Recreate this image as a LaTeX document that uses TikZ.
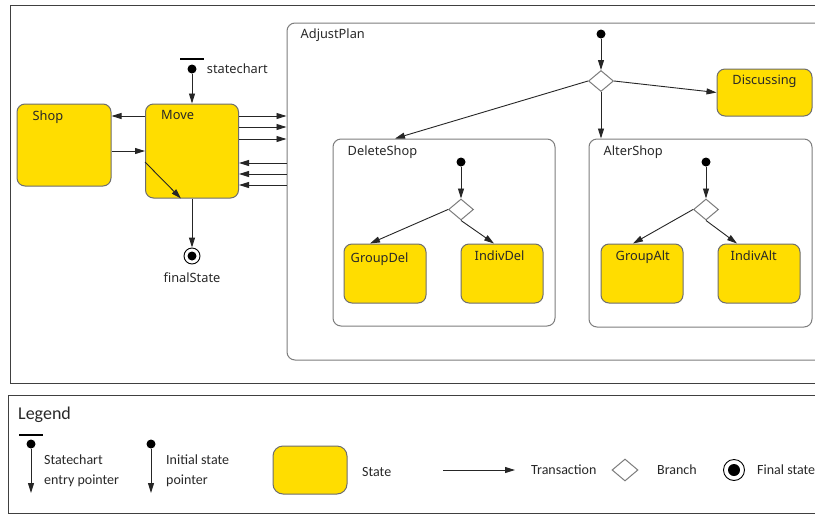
\documentclass[tikz,border=0pt]{standalone}
\usepackage{fontspec}
\setmainfont{Noto Sans}
\newfontfamily\legendfont{Carlito}
\usetikzlibrary{arrows.meta,shapes.geometric}

\definecolor{stateyellow}{RGB}{255,221,0}
\definecolor{stateborder}{RGB}{110,110,110}
\definecolor{boxborder}{RGB}{125,125,125}
\definecolor{textgray}{RGB}{40,40,40}

\tikzset{
	frame/.style={draw=black!75, line width=1pt},
	state/.style={draw=stateborder, fill=stateyellow, rounded corners=8pt, line width=1pt, inner sep=0pt},
	box/.style={draw=boxborder, rounded corners=8pt, line width=1pt, inner sep=0pt},
	init/.style={circle, fill=black, inner sep=0pt, minimum size=9pt},
	branch/.style={diamond, draw=boxborder, fill=white, line width=1pt, inner sep=0pt, minimum width=25pt, minimum height=21pt},
	finalst/.style={circle, draw=black, line width=0.9pt, inner sep=0pt, minimum size=16pt,
		path picture={\fill[black] (path picture bounding box.center) circle (#1);}},
	finalst/.default=4.5pt,
	tr/.style={-{Triangle[length=10pt,width=6pt]}, line width=0.9pt, draw=black!85},
	lbl/.style={font=\fontsize{12.8}{15}\selectfont, text=textgray, inner sep=0pt},
	leg/.style={font=\legendfont\fontsize{14}{20}\selectfont, text=textgray, inner sep=0pt, align=left},
}

\begin{document}
\begin{tikzpicture}[x=1pt,y=-1pt]
\useasboundingbox (0,0) rectangle (815,515);
\clip (0,0) rectangle (815,515);
\fill[white] (0,0) rectangle (815,515);

% FRAMES
\draw[frame] (10,5) rectangle (830,383);
\draw[frame] (8,395) rectangle (830,513);

% TOP LEVEL
\node[init, label={[lbl,label distance=10pt]right:statechart}] (sc) at (192,69) {};
\draw[line width=2.3pt] ([xshift=-12pt,yshift=10pt]sc.center) -- ([xshift=12pt,yshift=10pt]sc.center);
\node[state, minimum width=94pt, minimum height=82pt,
	label={[lbl,anchor=north west,xshift=16pt,yshift=-7pt]north west:Shop}] (shop) at (64,145) {};
\node[state, minimum width=93pt, minimum height=94pt,
	label={[lbl,anchor=north west,xshift=16pt,yshift=-7pt]north west:Move}] (move) at (192,151) {};
\node[finalst, label={[lbl,label distance=8pt]below:finalState}] (fs) at (192,256) {};

\draw[tr] (sc) -- (sc |- move.north);
\draw[tr] (move.west |- 0,116) -- (shop.east |- 0,116);
\draw[tr] (shop.east |- 0,151) -- (move.west |- 0,151);
\draw[tr] (move.west |- 0,162) -- (move.south -| 181,0);
\draw[tr] (move.south) -- (fs);

% ADJUSTPLAN
\node[box, minimum width=600pt, minimum height=337pt,
	label={[lbl,anchor=north west,xshift=14pt,yshift=-6pt]north west:AdjustPlan}] (ap) at (587,191.5) {};
\foreach \y in {116,127,139}
	\draw[tr] (move.east |- 0,\y) -- (ap.west |- 0,\y);
\foreach \y in {163,174,185}
	\draw[tr] (ap.west |- 0,\y) -- (move.east |- 0,\y);

\node[init] (i0) at (601,34) {};
\node[branch] (b0) at (601,81) {};
\node[state, minimum width=95pt, minimum height=47pt,
	label={[lbl,anchor=north,yshift=-6pt]north:Discussing}] (disc) at (764.5,92.5) {};

% DELETESHOP
\node[box, minimum width=222pt, minimum height=187pt,
	label={[lbl,anchor=north west,xshift=15pt,yshift=-7pt]north west:DeleteShop}] (ds) at (444,232.5) {};
\node[init] (i1) at (461,162) {};
\node[branch] (b1) at (461,209.5) {};
\node[state, minimum width=82pt, minimum height=59pt,
	label={[lbl,anchor=north west,xshift=7pt,yshift=-9pt]north west:GroupDel}] (gd) at (385,273.5) {};
\node[state, minimum width=82pt, minimum height=59pt,
	label={[lbl,anchor=north west,xshift=14pt,yshift=-7pt]north west:IndivDel}] (id) at (502,273.5) {};

% ALTERSHOP
\node[box, minimum width=223pt, minimum height=188pt,
	label={[lbl,anchor=north west,xshift=15pt,yshift=-7pt]north west:AlterShop}] (as) at (700.5,233) {};
\node[init] (i2) at (706,162) {};
\node[branch] (b2) at (706,209.5) {};
\node[state, minimum width=82pt, minimum height=59pt,
	label={[lbl,anchor=north west,xshift=15pt,yshift=-7pt]north west:GroupAlt}] (ga) at (642,273.5) {};
\node[state, minimum width=82pt, minimum height=59pt,
	label={[lbl,anchor=north west,xshift=13pt,yshift=-7pt]north west:IndivAlt}] (ia) at (759,273.5) {};

% TRANSITIONS INSIDE
\draw[tr] (i0) -- (b0);
\draw[tr] (b0.east) -- (disc.west);
\draw[tr] (b0.west) -- (ds.north -| 395,0);
\draw[tr] (b0.south) -- (b0.south |- as.north);
\draw[tr] (i1) -- (b1);
\draw[tr] (b1.west) -- (gd.north -| 370,0);
\draw[tr] (b1.south) -- (id.north -| 494,0);
\draw[tr] (i2) -- (b2);
\draw[tr] (b2.west) -- (ga.north -| 633,0);
\draw[tr] (b2.south) -- (ia.north -| 737,0);

% LEGEND
\node[leg, font=\legendfont\fontsize{18}{20}\selectfont, anchor=west] (lg) at (18,415) {Legend};
\node[init] (l1) at (31,444) {};
\draw[line width=2.3pt] ([xshift=-12pt,yshift=9pt]l1.center) -- ([xshift=12pt,yshift=9pt]l1.center);
\coordinate (l1e) at (31,493);
\draw[tr] (l1) -- (l1e);
\node[leg, anchor=west] (t1) at (44,471) {Statechart\\entry pointer};
\node[init] (l2) at (151,444) {};
\coordinate (l2e) at (151,493);
\draw[tr] (l2) -- (l2e);
\node[leg, anchor=west] (t2) at (166,471) {Initial state\\pointer};
\node[state, rounded corners=10pt, minimum width=74pt, minimum height=48pt] (l3) at (310,470) {};
\node[leg, anchor=west] (t3) at (362,472) {State};
\coordinate (l4a) at (443,470);
\coordinate (l4b) at (515,470);
\draw[tr] (l4a) -- (l4b);
\node[leg, anchor=west] (t4) at (531,470) {Transaction};
\node[branch, minimum width=26pt, minimum height=22pt] (l5) at (625,470) {};
\node[leg, anchor=west] (t5) at (657,470) {Branch};
\node[finalst=6pt, minimum size=21pt] (l6) at (734,470) {};
\node[leg, anchor=west] (t6) at (757,470) {Final state};

\end{tikzpicture}
\end{document}
